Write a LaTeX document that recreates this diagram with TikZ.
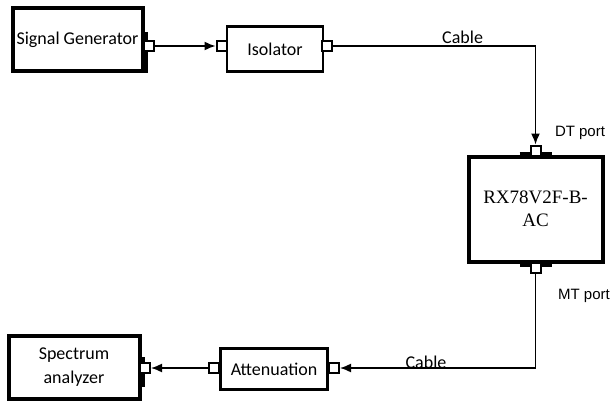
\documentclass[tikz,border=0pt]{standalone}
\usepackage{fontspec}
\setmainfont{Carlito}
\newfontfamily\arialfont{Liberation Sans}
\newfontfamily\timesfont{Liberation Serif}
\usetikzlibrary{arrows.meta}

\tikzset{
  bigbox/.style={draw, line width=4pt, inner sep=0pt, align=center, font=\fontsize{18}{24}\selectfont},
  smallbox/.style={draw, line width=2.2pt, inner sep=0pt, font=\fontsize{18}{22}\selectfont},
  port/.style={draw, fill=white, line width=2pt, minimum size=10pt, inner sep=0pt},
  thickbar/.style={line width=6pt},
  cable/.style={line width=1.5pt, -{Latex[length=11pt,width=9pt]}},
  cablelabel/.style={font=\fontsize{18}{22}\selectfont, inner sep=0pt, anchor=base},
  portlabel/.style={font=\arialfont\fontsize{15}{17}\selectfont},
}

\begin{document}
\begin{tikzpicture}[x=1pt,y=-1pt]
\useasboundingbox (0,0) rectangle (612,401);
% the boxes
\node[bigbox, minimum width=130pt, minimum height=63pt] (gen) at (77.5,39.5) {Signal Generator};
\node[smallbox, minimum width=96pt, minimum height=45pt] (iso) at (275,49) {Isolator};
\node[bigbox, minimum width=134pt, minimum height=105pt, font=\timesfont\fontsize{19}{23}\selectfont] (rx) at (535.5,209) {RX78V2F-B-\\AC};
\node[smallbox, minimum width=107pt, minimum height=41pt] (att) at (274,369) {Attenuation};
\node[bigbox, minimum width=131pt, minimum height=63pt] (spec) at (74,367) {Spectrum\\analyzer};
% thicker edge where a port sits
\draw[thickbar] ([xshift=-16pt]rx.north) -- ([xshift=16pt]rx.north);
\draw[thickbar] ([xshift=-16pt]rx.south) -- ([xshift=16pt]rx.south);
\draw[thickbar] ([yshift=7pt]gen.east) -- (gen.south east);
\draw[thickbar] ([yshift=10pt]spec.east) -- ([yshift=-20pt]spec.east);
% the ports
\node[port] (genP) at (149,46) {};
\node[port] (isoL) at (221.5,46) {};
\node[port] (isoR) at (327,46) {};
\node[port] (rxT) at (535.5,150.5) {};
\node[port] (rxB) at (535.5,267.5) {};
\node[port] (attL) at (214,368) {};
\node[port] (attR) at (334,368) {};
\node[port] (specP) at (145,368) {};
% the cables
\draw[cable] (genP) -- (isoL);
\draw[cable] (isoR) -| node[cablelabel, pos=0.32, yshift=2pt] {Cable} (rxT);
\draw[cable] (rxB) |- node[cablelabel, pos=0.78] {Cable} (attR);
\draw[cable] (attL) -- (specP);
% port names
\node[portlabel] (dtL) at (580,133) {DT port};
\node[portlabel] (mtL) at (584,296) {MT port};
\end{tikzpicture}
\end{document}
